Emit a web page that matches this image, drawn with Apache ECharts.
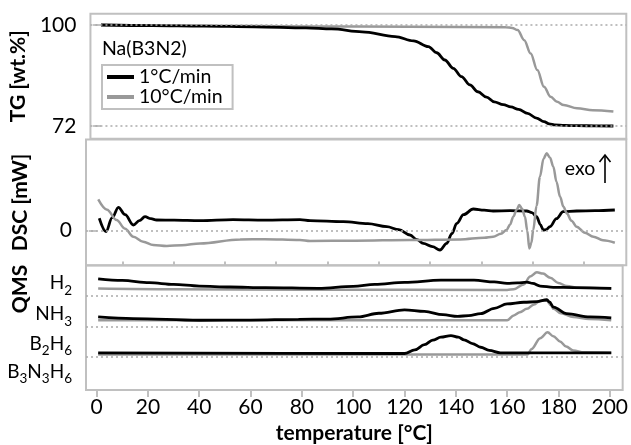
<!DOCTYPE html>
<html><head><meta charset="utf-8">
<script src="https://cdn.jsdelivr.net/npm/echarts@6/dist/echarts.min.js"></script>
<style>html,body{margin:0;padding:0;background:#fff}#c{width:631px;height:445px}</style>
</head><body><div id="c"></div>
<script>
// ---------- data (temperature in °C) ----------
var xTicks = [0, 20, 40, 60, 80, 100, 120, 140, 160, 180, 200];
var xMinorTicks = [10, 30, 50, 70, 90, 110, 130, 150, 170, 190];
var tgTicks = [72, 100];
var dscTicks = [0];
var qmsBaselines = [9.63, 6.47, 3.37];
var qmsLabelPos = [10.9, 7.7, 4.7, 1.85];
var qmsLabels = ['{n|H}{s|2}', '{n|NH}{s|3}', '{n|B}{s|2}{n|H}{s|6}', '{n|B}{s|3}{n|N}{s|3}{n|H}{s|6}'];

// TG [wt.%]
var tgSlowT = [0, 20, 40, 60, 80, 90, 101.9, 114.8, 122, 127.8, 131, 134.2, 137.5, 140.7, 144, 147.1, 150.5, 153.5, 157, 160, 163, 166.5, 170, 172.9, 175, 177, 181, 186, 193, 200];
var tgSlowV = [100, 99.85, 99.7, 99.5, 99.2, 98.9, 98.1, 96.8, 95.6, 94.0, 92.3, 90.3, 88.0, 85.7, 83.4, 81.5, 80.0, 78.7, 77.9, 77.3, 76.6, 75.5, 74.2, 73.2, 72.6, 72.3, 72.15, 72.1, 72.05, 72.0];
var tgFastT = [0, 40, 80, 120, 158, 160.5, 162.6, 165.2, 167.7, 170.3, 172.9, 175.5, 178, 180.6, 185.8, 192, 200];
var tgFastV = [100, 99.8, 99.6, 99.5, 99.4, 99.2, 98.6, 95.8, 92.1, 87.5, 82.9, 80.1, 78.7, 77.8, 76.9, 76.4, 76.0];

// DSC [mW] (arbitrary scale)
var dscSlowT = [1.0, 3.6, 6, 8.4, 11, 14.2, 16.5, 18.7, 21, 23.2, 30, 40, 52.8, 65, 78.7, 82.6, 95.5, 105, 112.3, 117, 121.3, 124, 126.4, 130, 132.9, 135.5, 137.5, 139.4, 142, 145.8, 150, 153.5, 160, 166.5, 168.5, 170.3, 171.8, 172.9, 174, 175.5, 178, 180.6, 185.8, 193, 200.6];
var dscSlowV = [1.24, -0.1, 1.3, 2.34, 1.6, 0.57, 1.0, 1.4, 1.2, 1.07, 1.05, 1.0, 1.1, 1.05, 1.1, 1.0, 0.9, 0.7, 0.4, 0.1, -0.43, -0.9, -1.27, -1.6, -1.93, -1.27, -0.3, 0.73, 1.6, 2.17, 2.05, 1.97, 2.0, 1.97, 1.8, 1.4, 0.6, 0.07, 0.1, 0.4, 1.2, 1.9, 1.97, 2.0, 2.07];
var dscFastT = [0.6, 4, 7.7, 11, 14.2, 18, 21.9, 27.1, 33, 40, 55.5, 65, 78.7, 82.6, 100, 121.3, 140.7, 150, 153.5, 156.5, 158.7, 160, 161.3, 162.6, 163.6, 164.7, 165.8, 166.7, 167.5, 168.3, 169, 170.3, 171.6, 173, 174.2, 175.5, 176.8, 178, 179.4, 180.7, 182, 183.8, 185.8, 189, 192.3, 196, 200.6];
var dscFastV = [3.13, 2.1, 1.07, 0.2, -0.6, -1.1, -1.43, -1.53, -1.45, -1.27, -0.87, -0.85, -0.93, -1.03, -1.0, -0.93, -0.87, -0.7, -0.6, -0.3, 0.07, 0.6, 1.4, 2.1, 2.57, 2.2, 1.4, 0.0, -1.77, -1.2, 0.07, 2.5, 5.4, 7.2, 7.74, 7.3, 6.4, 4.9, 3.4, 2.4, 1.74, 1.0, 0.4, -0.2, -0.6, -0.95, -1.2];

// QMS (traces offset per species)
var h2SlowT = [0.6, 10, 20.6, 30, 40, 52, 65.8, 86.4, 100, 108.4, 120, 134.2, 147.1, 155, 160, 164, 167.7, 170, 172.9, 178, 185.8, 200.6];
var h2SlowV = [11.37, 11.2, 10.97, 10.8, 10.63, 10.53, 10.47, 10.4, 10.6, 10.8, 11.0, 11.23, 11.23, 11.05, 10.9, 10.95, 11.03, 10.9, 10.63, 10.5, 10.47, 10.4];
var h2FastT = [0.6, 30, 80, 160, 162.6, 166.5, 169, 171.6, 174, 176.8, 180, 183.2, 188, 200.6];
var h2FastV = [10.37, 10.3, 10.25, 10.23, 10.3, 10.8, 11.6, 12.03, 11.9, 11.47, 10.95, 10.63, 10.45, 10.37];
var nh3SlowT = [0.6, 14.2, 40, 60, 78.7, 90, 101.9, 110, 120, 127.8, 135, 140.7, 145, 149.7, 155, 160, 166.5, 171.6, 175.5, 176.5, 178.1, 183.2, 192.3, 200.6];
var nh3SlowV = [7.47, 7.3, 7.13, 7.15, 7.23, 7.25, 7.47, 7.85, 8.2, 8.03, 7.7, 7.53, 7.6, 7.8, 8.35, 8.8, 8.97, 9.03, 9.23, 9.0, 8.47, 7.8, 7.47, 7.37];
var nh3FastT = [0.6, 160, 162.6, 165, 167.7, 170.5, 172.9, 175.5, 177, 178.1, 181, 185.8, 192, 200.6];
var nh3FastV = [7.13, 7.13, 7.63, 7.95, 8.3, 8.75, 9.13, 9.13, 8.7, 8.3, 7.85, 7.47, 7.25, 7.13];
var b2h6SlowT = [0.6, 120, 124, 127.8, 131, 134.2, 138.1, 141, 143.2, 146.5, 149.7, 153, 157.4, 200.6];
var b2h6SlowV = [3.8, 3.73, 4.1, 4.63, 5.1, 5.4, 5.57, 5.4, 5.13, 4.75, 4.37, 4.05, 3.8, 3.8];
var b2h6FastT = [0.6, 168, 169.5, 172.9, 175.8, 178, 180.6, 183, 185.8, 190, 200.6];
var b2h6FastV = [3.63, 3.63, 4.2, 5.3, 5.9, 5.5, 4.97, 4.45, 4.03, 3.85, 3.8];

// ---------- chart ----------
function zip(t, v) { return t.map(function (x, i) { return [x, v[i]]; }); }
var BLACK = '#000', GRAY = '#999', BORDER = '#c0c0c0', DOT = '#aaa';
var FONT = 'Lato';
var AX_FS = 21, NAME_FS = 21, TXT_FS = 19.5;
var XMIN = -4.14, XMAX = 205.04;

function dotted(vals) {
  return { silent: true, symbol: 'none', label: { show: false }, animation: false,
    lineStyle: { color: DOT, type: [2, 3], width: 1.5 },
    data: vals.map(function (v) { return { yAxis: v }; }) };
}
function line(name, xi, yi, data, color, width, z, ml) {
  var s = { name: name, type: 'line', xAxisIndex: xi, yAxisIndex: yi, data: data,
    showSymbol: false, smooth: 0.35, smoothMonotone: 'x', z: z,
    lineStyle: { color: color, width: width }, itemStyle: { color: color } };
  if (ml) s.markLine = ml;
  return s;
}
function xAx(gi, extra) {
  var a = { type: 'value', gridIndex: gi, min: XMIN, max: XMAX,
    axisLine: { show: false }, axisTick: { show: false }, axisLabel: { show: false }, splitLine: { show: false } };
  for (var k in extra) a[k] = extra[k];
  return a;
}
var nameStyle = { fontFamily: FONT, fontSize: NAME_FS, fontWeight: 'bold', color: '#000' };

var chart = echarts.init(document.getElementById('c'), null, { renderer: 'canvas' });
chart.setOption({
  animation: false,
  backgroundColor: '#fff',
  title: { text: 'Na(B3N2)', left: 102, top: 39, padding: 0,
    textStyle: { fontFamily: FONT, fontSize: TXT_FS, fontWeight: 'normal', color: '#000' } },
  legend: { data: ['1°C/min', '10°C/min'], left: 102, top: 65, orient: 'vertical',
    borderColor: BORDER, borderWidth: 2, padding: [2, 10, 2, 5], itemGap: 0,
    itemWidth: 27, itemHeight: 4, icon: 'rect', itemTextGap: 7,
    textStyle: { fontFamily: FONT, fontSize: TXT_FS, color: '#000', lineHeight: 19 } },
  grid: [
    { left: 86, right: 4.7, top: 13.7, height: 125, show: true, borderColor: BORDER, borderWidth: 2 },
    { left: 86, right: 4.7, top: 139.5, height: 125.8, show: true, borderColor: BORDER, borderWidth: 2 },
    { left: 86, right: 4.7, top: 265.5, height: 127.3, show: true, borderColor: BORDER, borderWidth: 2 }
  ],
  xAxis: [
    xAx(0, {}),
    xAx(1, {}),
    xAx(2, { name: 'temperature [°C]', nameLocation: 'middle', nameGap: 33,
      nameTextStyle: nameStyle,
      axisTick: { show: true, inside: false, length: 7, customValues: xTicks, lineStyle: { color: BORDER, width: 2 } },
      axisLabel: { show: true, customValues: xTicks, margin: 7, fontFamily: FONT, fontSize: AX_FS, color: '#000' } }),
    xAx(2, { axisTick: { show: true, length: 4, customValues: xMinorTicks, lineStyle: { color: BORDER, width: 2 } } })
  ],
  yAxis: [
    { type: 'value', gridIndex: 0, min: 68.48, max: 103.13,
      name: 'TG [wt.%]', nameLocation: 'middle', nameGap: 55, nameTextStyle: nameStyle,
      axisLine: { show: false }, splitLine: { show: false },
      axisTick: { show: true, length: 8, customValues: tgTicks, lineStyle: { color: '#b0b0b0', width: 1.5 } },
      axisLabel: { customValues: tgTicks, margin: 14, fontFamily: FONT, fontSize: AX_FS, color: '#000' } },
    { type: 'value', gridIndex: 1, min: -3.46, max: 9.12,
      name: 'DSC [mW]', nameLocation: 'middle', nameGap: 55, nameTextStyle: nameStyle,
      axisLine: { show: false }, splitLine: { show: false },
      axisTick: { show: true, length: 8, customValues: dscTicks, lineStyle: { color: '#b0b0b0', width: 1.5 } },
      axisLabel: { customValues: dscTicks, margin: 14, fontFamily: FONT, fontSize: AX_FS, color: '#000' } },
    { type: 'value', gridIndex: 2, min: 0, max: 12.73,
      axisLine: { show: false }, splitLine: { show: false }, axisTick: { show: false },
      axisLabel: { customValues: qmsLabelPos, margin: 14,
        formatter: function (v) { var i = qmsLabelPos.indexOf(v); return i >= 0 ? qmsLabels[i] : ''; },
        rich: {
          n: { fontFamily: FONT, fontSize: 19, color: '#000', lineHeight: 20, verticalAlign: 'top' },
          s: { fontFamily: FONT, fontSize: 13.5, color: '#000', lineHeight: 13, verticalAlign: 'top', padding: [10, 0, 0, 0] }
        } } }
  ],
  graphic: [
    { type: 'text', x: 20, y: 289, rotation: Math.PI / 2,
      style: { text: 'QMS', fontFamily: FONT, fontSize: NAME_FS, fontWeight: 'bold', fill: '#000', textAlign: 'center', textVerticalAlign: 'middle' } },
    { type: 'text', x: 580, y: 169,
      style: { text: 'exo', fontFamily: FONT, fontSize: TXT_FS, fill: '#000', textAlign: 'center', textVerticalAlign: 'middle' } },
    { type: 'line', shape: { x1: 605, y1: 183, x2: 605, y2: 156 }, style: { stroke: '#000', lineWidth: 1.6 } },
    { type: 'polyline', shape: { points: [[599.5, 162], [605, 155], [610.5, 162]] }, style: { stroke: '#000', lineWidth: 1.6, fill: null } }
  ],
  series: [
    line('10°C/min', 0, 0, zip(tgFastT, tgFastV), GRAY, 2.5, 2, dotted(tgTicks)),
    line('1°C/min', 0, 0, zip(tgSlowT, tgSlowV), BLACK, 2.8, 3),
    line('DSC 1', 1, 1, zip(dscSlowT, dscSlowV), BLACK, 2.8, 3, dotted(dscTicks)),
    line('DSC 10', 1, 1, zip(dscFastT, dscFastV), GRAY, 2.5, 4),
    line('H2 10', 2, 2, zip(h2FastT, h2FastV), GRAY, 2.5, 2, dotted(qmsBaselines)),
    line('H2 1', 2, 2, zip(h2SlowT, h2SlowV), BLACK, 2.8, 3),
    line('NH3 10', 2, 2, zip(nh3FastT, nh3FastV), GRAY, 2.5, 2),
    line('NH3 1', 2, 2, zip(nh3SlowT, nh3SlowV), BLACK, 2.8, 3),
    line('B2H6 10', 2, 2, zip(b2h6FastT, b2h6FastV), GRAY, 2.5, 2),
    line('B2H6 1', 2, 2, zip(b2h6SlowT, b2h6SlowV), BLACK, 2.8, 3)
  ]
});
</script></body></html>
